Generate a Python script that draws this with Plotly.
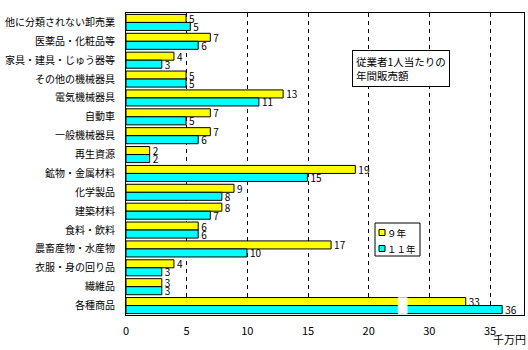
import plotly.graph_objects as go

categories = ["他に分類されない卸売業", "医薬品・化粧品等", "家具・建具・じゅう器等", "その他の機械器具",
              "電気機械器具", "自動車", "一般機械器具", "再生資源", "鉱物・金属材料", "化学製品",
              "建築材料", "食料・飲料", "農畜産物・水産物", "衣服・身の回り品", "繊維品", "各種商品"]
h9 = [4.95, 6.95, 3.95, 4.95, 12.95, 6.95, 6.95, 1.95, 18.9, 8.9, 7.9, 5.95, 16.9, 3.95, 2.95, 33.0]
h11 = [5.3, 5.95, 2.95, 4.95, 10.95, 4.95, 5.95, 1.95, 14.95, 7.9, 6.95, 5.95, 9.97, 2.95, 2.95, 36.0]
series_names = ["９年", "１１年"]
colors = ["#FFFF00", "#00FFFF"]

tick_vals = [0, 5, 10, 15, 20, 25, 30]
tick_text = ["0", "5", "10", "15", "20", "30", "35"]

# broken axis: values above the break are shifted left by SHIFT
BREAK_AT = 22.4
BREAK_END = 23.2
SHIFT = 5


def disp(v):
    return v - SHIFT if v > BREAK_AT + SHIFT else v


FONT = "Noto Sans CJK JP"
W, H = 528, 350
L, R, T, B = 126, 4, 13, 35
PW, PH = W - L - R, H - T - B


def px(x):  # pixel -> plot-domain paper x
    return (x - L) / PW


def py(y):  # pixel -> plot-domain paper y
    return (H - B - y) / PH


fig = go.Figure()
for name, vals, col in zip(series_names, [h9, h11], colors):
    fig.add_trace(go.Bar(
        y=categories, x=[disp(v) for v in vals], orientation="h", name=name,
        marker=dict(color=col, line=dict(color="black", width=1)),
        text=[str(round(v)) for v in vals], textposition="outside", constraintext="none",
        textfont=dict(family=FONT, size=10, color="black"), cliponaxis=False,
        showlegend=False,
    ))

fig.add_shape(type="rect", xref="x", yref="y", x0=BREAK_AT, x1=BREAK_END,
              y0=len(categories) - 1 - 0.44, y1=len(categories) - 1 + 0.44,
              fillcolor="white", line=dict(width=0), layer="above")

# annotation box
fig.add_annotation(xref="paper", yref="paper", x=px(352), y=py(50), xanchor="left", yanchor="top",
                   text="従業者1人当たりの<br>年間販売額", align="left", showarrow=False,
                   font=dict(family=FONT, size=10.5, color="black"),
                   bordercolor="black", borderwidth=1, borderpad=3, bgcolor="white")
# unit label
fig.add_annotation(xref="paper", yref="paper", x=px(528), y=py(349), xanchor="right", yanchor="bottom",
                   text="千万円", showarrow=False, font=dict(family=FONT, size=11, color="black"))

# compact legend box
fig.add_shape(type="rect", xref="paper", yref="paper", x0=px(375), x1=px(420), y0=py(256), y1=py(223),
              fillcolor="white", line=dict(color="black", width=1), layer="above")
for i, (name, col) in enumerate(zip(series_names, colors)):
    cy = 232.5 + i * 16
    fig.add_shape(type="rect", xref="paper", yref="paper", x0=px(379), x1=px(385),
                  y0=py(cy + 3), y1=py(cy - 3), fillcolor=col,
                  line=dict(color="black", width=1), layer="above")
    fig.add_annotation(xref="paper", yref="paper", x=px(385), y=py(cy), xanchor="left", yanchor="middle",
                       text=name, showarrow=False, font=dict(family=FONT, size=9.5, color="black"))

fig.update_layout(
    width=W, height=H, margin=dict(l=L, r=R, t=T, b=B),
    paper_bgcolor="white", plot_bgcolor="white",
    barmode="group", bargap=0.15, bargroupgap=0,
    font=dict(family=FONT, size=11, color="black"),
    showlegend=False,
    xaxis=dict(range=[0, 32.8], tickvals=tick_vals, ticktext=tick_text, showgrid=True,
               gridcolor="black", griddash="4px,4px", gridwidth=1, zeroline=False,
               showline=True, linecolor="black", linewidth=1, mirror=True, ticks="",
               ticklabelstandoff=6, tickfont=dict(family=FONT, size=11), automargin=False),
    yaxis=dict(autorange="reversed", showline=True, linecolor="black", linewidth=1, mirror=True,
               ticks="", ticklabelstandoff=8, showgrid=False, automargin=False,
               tickfont=dict(family=FONT, size=10)),
)

fig.write_html("out.html")
